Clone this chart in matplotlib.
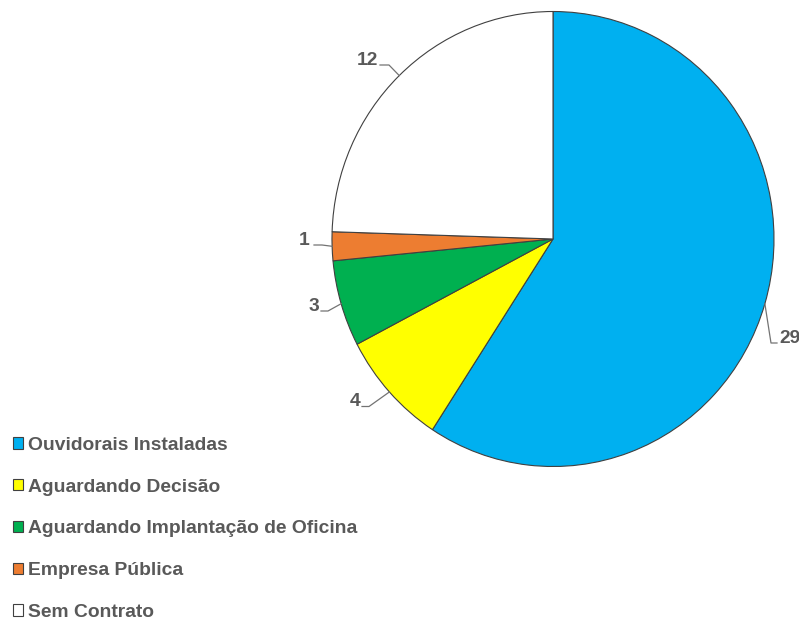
import matplotlib
matplotlib.use("Agg")
import matplotlib.pyplot as plt
import numpy as np

categories = ["Ouvidorais Instaladas", "Aguardando Decisão",
              "Aguardando Implantação de Oficina", "Empresa Pública", "Sem Contrato"]
values = [29, 4, 3, 1, 12]
colors = ["#00B0F0", "#FFFF00", "#00B050", "#ED7D31", "#FFFFFF"]

plt.rcParams['font.family'] = ['Liberation Sans', 'DejaVu Sans']
TXT = "#595959"
FS = 13.9

W, H = 799, 622
fig = plt.figure(figsize=(W / 100, H / 100), dpi=100)
cx, cy, rx, ry = 553, 239, 221, 227.5
ax = fig.add_axes([(cx - rx) / W, (H - cy - ry) / H, 2 * rx / W, 2 * ry / H])
wedges, _ = ax.pie(values, colors=colors, startangle=90, counterclock=False,
                   radius=1, wedgeprops=dict(edgecolor="#404040", linewidth=0.8))
ax.set_xlim(-1, 1)
ax.set_ylim(-1, 1)
ax.set_aspect('auto')
ax.axis('off')


def d(px, py):
    return (px - cx) / rx, (cy - py) / ry

# label layout in pixel positions: (text x, baseline y, line start x, elbow x, align)
label_layout = [
    (779, 343, 777, 771, 'left'),    # 29
    (360, 406.5, 362, 369, 'right'),   # 4
    (319.5, 311, 321, 328, 'right'),   # 3
    (309.5, 245, 314, 322, 'right'),   # 1
    (378, 65, 380, 389, 'right'),    # 12
]
for w, v, (tx, ty, ex0, ex1, ha) in zip(wedges, values, label_layout):
    mid = np.deg2rad((w.theta1 + w.theta2) / 2)
    px, py = np.cos(mid), np.sin(mid)
    p1 = d(ex0, ty)
    p2 = d(ex1, ty)
    ax.plot([p1[0], p2[0], px], [p1[1], p2[1], py], color="#737373",
            lw=0.9, clip_on=False)
    x, y = d(tx, ty)
    ax.text(x, y, str(v), ha=ha, va='baseline', fontsize=FS, fontweight='bold',
            color=TXT, clip_on=False)

leg = fig.legend(wedges, categories, loc='upper left',
                 bbox_to_anchor=(5 / W, 1 - 429 / H), frameon=False,
                 prop=dict(size=FS, weight='bold'), labelcolor=TXT,
                 handlelength=0.52, handleheight=0.52, handletextpad=0.26,
                 labelspacing=1.285, borderaxespad=0)
for h in leg.legend_handles:
    h.set_edgecolor("#404040")
    h.set_linewidth(0.8)

fig.savefig("out.png", dpi=100)
